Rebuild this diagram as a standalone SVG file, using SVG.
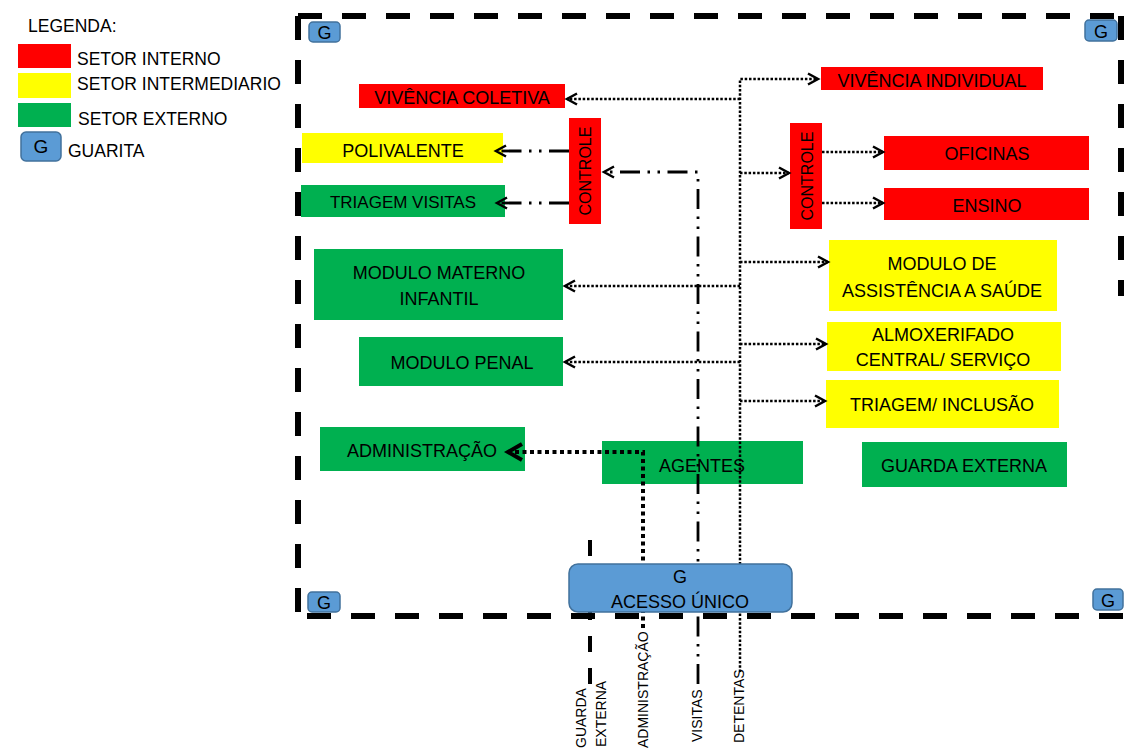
<svg xmlns="http://www.w3.org/2000/svg" width="1124" height="753" viewBox="0 0 1124 753">
<style>
text{font-family:"Liberation Sans",Arial,sans-serif;fill:#000}
.lbl{font-size:18px;text-anchor:middle}
.leg{font-size:17.5px}
.ctl{font-size:16px;text-anchor:middle}
.bot{font-size:14px;text-anchor:start}
.gt{font-size:18px;text-anchor:middle}
.red{fill:#FF0000}
.yel{fill:#FFFF00}
.grn{fill:#00B050}
.gbox{fill:#5B9BD5;stroke:#41719C;stroke-width:1.5}
.frame{fill:none;stroke:#000;stroke-width:6;stroke-dasharray:24 20}
.dot{fill:none;stroke:#000;stroke-width:2.5;stroke-dasharray:2.5 1.8}
.dd{fill:none;stroke:#000;stroke-width:2.8;stroke-dasharray:20 7.5 2.5 7.5 2.5 7.5}
.thick{fill:none;stroke:#000;stroke-width:4;stroke-dasharray:4 3.5}
.dash{fill:none;stroke:#000;stroke-width:4;stroke-dasharray:16 16}
</style>
<defs>
<marker id="arr" markerUnits="userSpaceOnUse" refX="0" refY="0" markerWidth="1" markerHeight="1" orient="auto" overflow="visible">
<path d="M-10,-5.5 L0,0 L-10,5.5" fill="none" stroke="#000" stroke-width="2.5"/>
</marker>
<marker id="arrB" markerUnits="userSpaceOnUse" refX="0" refY="0" markerWidth="1" markerHeight="1" orient="auto" overflow="visible">
<path d="M-14,-8 L0,0 L-14,8" fill="none" stroke="#000" stroke-width="4"/>
</marker>
</defs>
<rect width="1124" height="753" fill="#fff"/>

<g id="legend">
<text class="leg" x="28" y="32">LEGENDA:</text>
<rect class="red" x="18" y="44" width="53" height="24"/>
<text class="leg" x="77" y="65">SETOR INTERNO</text>
<rect class="yel" x="18" y="73" width="53" height="25"/>
<text class="leg" x="77" y="90">SETOR INTERMEDIARIO</text>
<rect class="grn" x="18" y="103" width="53" height="24"/>
<text class="leg" x="78" y="125">SETOR EXTERNO</text>
<rect class="gbox" x="21" y="132" width="40" height="29" rx="5"/>
<text class="gt" x="41" y="153" style="font-size:19px">G</text>
<text class="leg" x="68" y="157">GUARITA</text>
</g>

<g id="frame">
<path class="frame" d="M298,16 H1124"/>
<path class="frame" d="M298,16 V616"/>
<path class="frame" d="M307,616 H1124"/>
<path class="frame" d="M1121,16 V296"/>
</g>

<g id="vivencia-coletiva"><rect class="red" x="359" y="84" width="206" height="24"/><text class="lbl" x="462" y="104">VIVÊNCIA COLETIVA</text></g>
<g id="vivencia-individual"><rect class="red" x="821" y="67" width="222" height="23"/><text class="lbl" x="932" y="87">VIVÊNCIA INDIVIDUAL</text></g>
<g id="polivalente"><rect class="yel" x="302" y="133" width="201" height="30"/><text class="lbl" x="403" y="157">POLIVALENTE</text></g>
<g id="triagem-visitas"><rect class="grn" x="301" y="185" width="204" height="32"/><text class="lbl" x="403" y="208" style="font-size:17px">TRIAGEM VISITAS</text></g>
<g id="controle-1"><rect class="red" x="569" y="118" width="32" height="106"/><text class="ctl" transform="translate(591,171) rotate(-90)">CONTROLE</text></g>
<g id="controle-2"><rect class="red" x="790" y="123" width="32" height="106"/><text class="ctl" transform="translate(813,176) rotate(-90)">CONTROLE</text></g>
<g id="oficinas"><rect class="red" x="884" y="136" width="205" height="34"/><text class="lbl" x="987" y="160">OFICINAS</text></g>
<g id="ensino"><rect class="red" x="884" y="188" width="205" height="32"/><text class="lbl" x="987" y="212">ENSINO</text></g>
<g id="modulo-assistencia"><rect class="yel" x="829" y="240" width="228" height="71"/><text class="lbl" x="942" y="270">MODULO DE</text><text class="lbl" x="942" y="297">ASSISTÊNCIA A SAÚDE</text></g>
<g id="almoxerifado"><rect class="yel" x="827" y="322" width="234" height="49"/><text class="lbl" x="943" y="341">ALMOXERIFADO</text><text class="lbl" x="943" y="366">CENTRAL/ SERVIÇO</text></g>
<g id="triagem-inclusao"><rect class="yel" x="826" y="380" width="233" height="48"/><text class="lbl" x="942" y="411">TRIAGEM/ INCLUSÃO</text></g>
<g id="guarda-externa"><rect class="grn" x="862" y="442" width="205" height="45"/><text class="lbl" x="964" y="472">GUARDA EXTERNA</text></g>
<g id="modulo-materno"><rect class="grn" x="314" y="249" width="249" height="71"/><text class="lbl" x="439" y="279">MODULO MATERNO</text><text class="lbl" x="439" y="305">INFANTIL</text></g>
<g id="modulo-penal"><rect class="grn" x="359" y="337" width="204" height="49"/><text class="lbl" x="462" y="369">MODULO PENAL</text></g>
<g id="administracao"><rect class="grn" x="320" y="427" width="205" height="44"/><text class="lbl" x="422" y="457">ADMINISTRAÇÃO</text></g>
<g id="agentes"><rect class="grn" x="602" y="441" width="201" height="43"/><text class="lbl" x="702" y="472">AGENTES</text></g>

<g id="connectors">
<path class="dot" d="M740,672 V79 H818" marker-end="url(#arr)"/>
<path class="dot" d="M740,99 H567" marker-end="url(#arr)"/>
<path class="dot" d="M740,173 H789" marker-end="url(#arr)"/>
<path class="dot" d="M822,152 H883" marker-end="url(#arr)"/>
<path class="dot" d="M822,203 H883" marker-end="url(#arr)"/>
<path class="dot" d="M740,262 H828" marker-end="url(#arr)"/>
<path class="dot" d="M740,286 H565" marker-end="url(#arr)"/>
<path class="dot" d="M740,344 H826" marker-end="url(#arr)"/>
<path class="dot" d="M740,362 H565" marker-end="url(#arr)"/>
<path class="dot" d="M740,401 H825" marker-end="url(#arr)"/>
<path class="dd" d="M698,684 V172 H604" marker-end="url(#arr)"/>
<path class="dd" d="M569,151 H496" marker-end="url(#arr)"/>
<path class="dd" d="M569,203 H497" marker-end="url(#arr)"/>
<path class="thick" d="M643,628 V452 H508" marker-end="url(#arrB)"/>
<path class="dash" d="M590,540 V684"/>
</g>

<g id="acesso-unico"><rect class="gbox" x="569" y="564" width="223" height="48" rx="9"/><text class="gt" x="680" y="583">G</text><text class="lbl" x="680" y="608">ACESSO ÚNICO</text></g>

<g id="guarita-tl"><rect class="gbox" x="309" y="22" width="31" height="20" rx="4"/><text class="gt" x="324.5" y="38.5">G</text></g>
<g id="guarita-tr"><rect class="gbox" x="1085" y="20" width="32" height="21" rx="4"/><text class="gt" x="1101" y="37.5">G</text></g>
<g id="guarita-bl"><rect class="gbox" x="308" y="592" width="32" height="20" rx="4"/><text class="gt" x="324" y="608.5">G</text></g>
<g id="guarita-br"><rect class="gbox" x="1093" y="589" width="30" height="21" rx="4"/><text class="gt" x="1108" y="606.5">G</text></g>

<g id="entry-labels">
<text class="bot" transform="translate(586,748) rotate(-90)">GUARDA</text>
<text class="bot" transform="translate(606,747) rotate(-90)">EXTERNA</text>
<text class="bot" transform="translate(648,748) rotate(-90)">ADMINISTRAÇÃO</text>
<text class="bot" transform="translate(702,742) rotate(-90)">VISITAS</text>
<text class="bot" transform="translate(744,743) rotate(-90)">DETENTAS</text>
</g>
</svg>
